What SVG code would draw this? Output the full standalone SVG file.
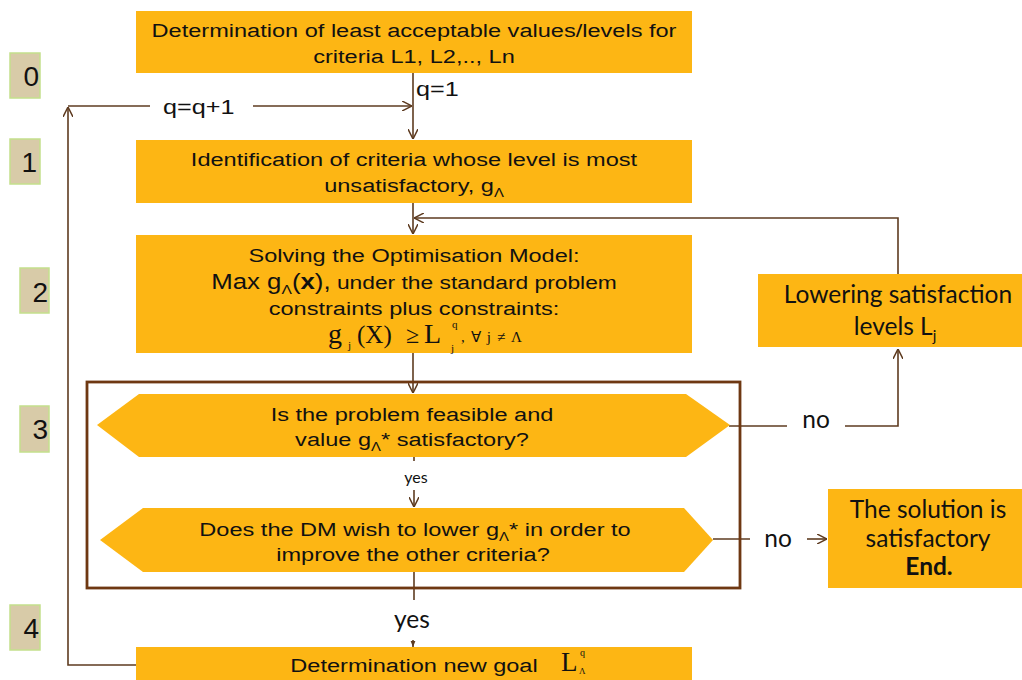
<svg xmlns="http://www.w3.org/2000/svg" width="1022" height="680" viewBox="0 0 1022 680">
<style>
.box{fill:#FDB614;}
.step{fill:#D8CBA8;stroke:#C4E08C;stroke-width:1.5;}
.stept{font-family:"Liberation Sans",Arial,sans-serif;font-size:28px;fill:#111;text-anchor:end;}
.t{font-family:"Liberation Sans",Arial,sans-serif;font-size:19px;fill:#111;text-anchor:middle;}
.q{font-family:"Liberation Sans",Arial,sans-serif;font-size:21px;fill:#111;}
.g{font-family:Lato,"Noto Sans",sans-serif;font-size:24.5px;fill:#111;text-anchor:middle;}
.m{font-family:"Liberation Serif","Times New Roman",serif;fill:#111;}
.c{fill:none;stroke:#5E3B20;stroke-width:1.6;}
.frame{fill:none;stroke:#6E3812;stroke-width:2.8;}
</style>
<defs>
<marker id="ah" viewBox="0 0 10 10" refX="10" refY="5" markerWidth="10" markerHeight="10" markerUnits="userSpaceOnUse" orient="auto">
<path d="M0,0 L10,5 L0,10" fill="none" stroke="#5E3B20" stroke-width="1.5"/>
</marker>
<marker id="ahs" viewBox="0 0 10 10" refX="10" refY="5" markerWidth="6" markerHeight="6" markerUnits="userSpaceOnUse" orient="auto">
<path d="M0,1 L10,5 L0,9 z" fill="#5E3B20"/>
</marker>
</defs>

<g id="steps">
<g id="step0"><rect class="step" x="10" y="53" width="30" height="45"/><text class="stept" x="39" y="86">0</text></g>
<g id="step1"><rect class="step" x="10" y="139" width="30" height="45"/><text class="stept" x="37" y="172">1</text></g>
<g id="step2"><rect class="step" x="20" y="268" width="29" height="45"/><text class="stept" x="48" y="302">2</text></g>
<g id="step3"><rect class="step" x="20" y="406" width="29" height="46"/><text class="stept" x="48" y="439">3</text></g>
<g id="step4"><rect class="step" x="10" y="605" width="30" height="45"/><text class="stept" x="39" y="638">4</text></g>
</g>

<g id="connectors">
<line class="c" x1="413" y1="73" x2="413" y2="139" marker-end="url(#ah)"/>
<text class="q" transform="translate(416,96) scale(1.2,1)">q=1</text>
<polyline class="c" points="136,665 68,665 68,107" marker-end="url(#ah)"/>
<line class="c" x1="68" y1="106" x2="150" y2="106"/>
<line class="c" x1="253" y1="106" x2="412" y2="106" marker-end="url(#ah)"/>
<text class="q" transform="translate(163,114) scale(1.2,1)">q=q+1</text>
<line class="c" x1="413" y1="203" x2="413" y2="234" marker-end="url(#ah)"/>
<polyline class="c" points="898,274 898,218 414,218" marker-end="url(#ah)"/>
<line class="c" x1="413" y1="353" x2="413" y2="393" marker-end="url(#ah)"/>
<polyline class="c" points="729,426 787,426"/>
<text class="g" x="816" y="428" font-size="27">no</text>
<polyline class="c" points="845,426 898,426 898,349" marker-end="url(#ah)"/>
<line class="c" x1="414" y1="457" x2="414" y2="461"/>
<text x="416" y="483" font-family="Lato,sans-serif" font-size="16" fill="#111" text-anchor="middle">yes</text>
<line class="c" x1="414" y1="490" x2="414" y2="507" marker-end="url(#ah)"/>
<line class="c" x1="713" y1="539" x2="750" y2="539"/>
<text class="g" x="778" y="547" font-size="27">no</text>
<line class="c" x1="807" y1="539" x2="827" y2="539" marker-end="url(#ah)"/>
<line class="c" x1="414" y1="572" x2="414" y2="600"/>
<text class="g" x="412" y="628" font-size="23">yes</text>
<line class="c" x1="413" y1="640" x2="413" y2="647" marker-end="url(#ahs)"/>
</g>

<g id="n0">
<rect class="box" x="136" y="11" width="556" height="62"/>
<text class="t" transform="translate(414,37) scale(1.24,1)">Determination of least acceptable values/levels for</text>
<text class="t" transform="translate(414,63) scale(1.24,1)">criteria L1, L2,.., Ln</text>
</g>

<g id="n1">
<rect class="box" x="136" y="140" width="556" height="63"/>
<text class="t" transform="translate(414,166) scale(1.24,1)">Identification of criteria whose level is most</text>
<text class="t" transform="translate(414,192) scale(1.24,1)">unsatisfactory, g<tspan font-size="12" dy="5">Λ</tspan></text>
</g>

<g id="n2">
<rect class="box" x="136" y="235" width="556" height="118"/>
<text class="t" transform="translate(414,262) scale(1.24,1)">Solving the Optimisation Model:</text>
<text class="t" transform="translate(414,289) scale(1.2,1)"><tspan font-size="21.5">Max g</tspan><tspan font-size="13" dy="5">Λ</tspan><tspan font-size="21.5" dy="-5">(</tspan><tspan font-size="21.5" font-weight="bold">x</tspan><tspan font-size="21.5">),</tspan> under the standard problem</text>
<text class="t" transform="translate(414,315) scale(1.24,1)">constraints plus constraints:</text>
<text class="m" x="328" y="343" font-size="28">g</text>
<text class="m" x="348" y="349" font-size="11">j</text>
<text class="m" x="357" y="343" font-size="25">(X)</text>
<text class="m" x="406" y="343" font-size="24">≥</text>
<text class="m" x="424" y="343" font-size="28">L</text>
<text class="m" x="452" y="328" font-size="11">q</text>
<text class="m" x="451" y="352" font-size="11">j</text>
<text class="m" x="461" y="342" font-size="15" textLength="61" lengthAdjust="spacing">, ∀ j ≠ Λ</text>
</g>

<g id="n3frame">
<rect class="frame" x="87" y="382" width="653" height="206"/>
</g>

<g id="n3a">
<polygon class="box" points="97,425 139,394 686,394 730,425 686,457 139,457"/>
<text class="t" transform="translate(412,421) scale(1.24,1)">Is the problem feasible and</text>
<text class="t" transform="translate(412,446) scale(1.24,1)">value g<tspan font-size="12" dy="5">Λ</tspan><tspan dy="-5">* satisfactory?</tspan></text>
</g>

<g id="n3b">
<polygon class="box" points="100,540 143,508 684,508 713,540 684,572 143,572"/>
<text class="t" transform="translate(415,536) scale(1.24,1)">Does the DM wish to lower  g<tspan font-size="12" dy="5">Λ</tspan><tspan dy="-5">* in order to</tspan></text>
<text class="t" transform="translate(413,561) scale(1.24,1)">improve the other criteria?</text>
</g>

<g id="nLower">
<rect class="box" x="758" y="274" width="264" height="73"/>
<text class="g" x="898" y="303">Lowering satisfaction</text>
<text class="g" x="895" y="335">levels L<tspan font-size="15" dy="6">j</tspan></text>
</g>

<g id="nEnd">
<rect class="box" x="828" y="489" width="194" height="99"/>
<text class="g" x="928" y="518">The solution is</text>
<text class="g" x="928" y="547">satisfactory</text>
<text class="g" x="929" y="575" font-weight="bold">End.</text>
</g>

<g id="n4">
<rect class="box" x="136" y="647" width="556" height="33"/>
<text class="t" transform="translate(414,672) scale(1.24,1)">Determination new goal</text>
<text class="m" x="561" y="671" font-size="27">L</text>
<text class="m" x="580" y="656" font-size="10">q</text>
<text class="m" x="579" y="674" font-size="9">Λ</text>
</g>
</svg>
